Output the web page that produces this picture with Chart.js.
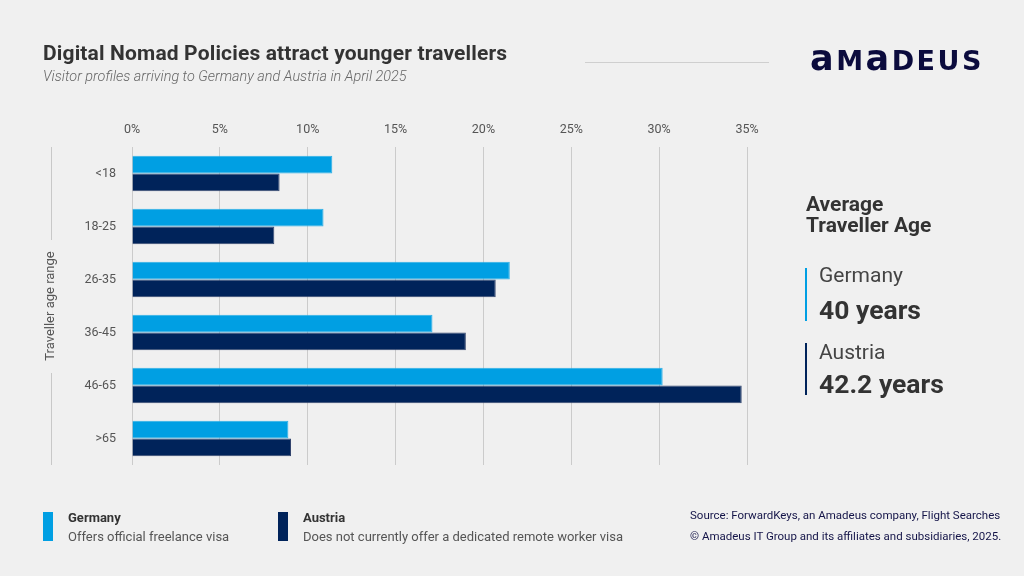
<!DOCTYPE html>
<html>
<head>
<meta charset="utf-8">
<script src="https://cdn.jsdelivr.net/npm/chart.js@4/dist/chart.umd.min.js"></script>
<style>
  html, body { margin: 0; padding: 0; }
  body { width: 1024px; height: 576px; background: #f0f0f0; font-family: Roboto, "Noto Sans", sans-serif; position: relative; overflow: hidden; }
  #wrap { position: absolute; left: 0; top: 0; width: 1024px; height: 576px; }
  .abs { position: absolute; white-space: nowrap; }
  #title { left: 43px; top: 43px; font-size: 21px; line-height: 21px; letter-spacing: 0.15px; font-weight: 700; color: #333; }
  #subtitle { left: 43px; top: 70px; font-size: 14.4px; line-height: 14.4px; font-style: italic; font-weight: 300; color: #666; }
  #rule { left: 585px; top: 62px; width: 184px; height: 1px; background: #cfcfcf; }
  #logo { left: 810px; top: 40px; line-height: 36px; font-weight: 700; color: #0b0b3d; letter-spacing: 2.5px; font-family: "DejaVu Sans", Roboto, sans-serif; }
  #logo .lc { font-size: 35px; }
  #logo .uc { font-size: 27px; }
  .swatch { width: 10px; height: 29px; top: 512px; }
  .lname { font-size: 13px; line-height: 15px; font-weight: 700; color: #333; top: 510px; }
  .ldesc { font-size: 13px; line-height: 15px; color: #555; top: 529px; }
  .src { left: 690px; font-size: 11.5px; color: #141448; font-family: "Liberation Sans Narrow", "Roboto", sans-serif; }
  #avg { left: 806px; top: 194px; font-size: 21px; font-weight: 700; color: #333; line-height: 21px; }
  .bar { left: 805px; width: 2px; }
  .cname { left: 819px; font-size: 21px; line-height: 21px; color: #444; }
  .cval { left: 819px; font-size: 26.5px; line-height: 26.5px; font-weight: 700; color: #333; }
</style>
</head>
<body>
<div id="wrap"><canvas id="chart" width="1024" height="576"></canvas></div>

<div class="abs" id="title">Digital Nomad Policies attract younger travellers</div>
<div class="abs" id="subtitle">Visitor profiles arriving to Germany and Austria in April 2025</div>
<div class="abs" id="rule"></div>
<div class="abs" id="logo"><span class="lc">a</span><span class="uc">M</span><span class="lc">a</span><span class="uc">DEUS</span></div>

<div class="abs" id="avg">Average<br>Traveller Age</div>
<div class="abs bar" style="top:268px;height:53px;background:#009fe3"></div>
<div class="abs cname" style="top:265px">Germany</div>
<div class="abs cval" style="top:296.5px">40 years</div>
<div class="abs bar" style="top:343px;height:52px;background:#00235a"></div>
<div class="abs cname" style="top:342px">Austria</div>
<div class="abs cval" style="top:370.5px">42.2 years</div>

<div class="abs swatch" style="left:43px;background:#009fe3"></div>
<div class="abs lname" style="left:68px">Germany</div>
<div class="abs ldesc" style="left:68px">Offers official freelance visa</div>
<div class="abs swatch" style="left:278px;background:#00235a"></div>
<div class="abs lname" style="left:303px">Austria</div>
<div class="abs ldesc" style="left:303px">Does not currently offer a dedicated remote worker visa</div>

<div class="abs src" style="top:508px">Source: ForwardKeys, an Amadeus company, Flight Searches</div>
<div class="abs src" style="top:529px">© Amadeus IT Group and its affiliates and subsidiaries, 2025.</div>

<script>
const ageRanges = ['<18', '18-25', '26-35', '36-45', '46-65', '>65'];
const germany = [11.4, 10.9, 21.5, 17.1, 30.2, 8.9];
const austria = [8.4, 8.1, 20.7, 19.0, 34.7, 9.05];
const xTicks = [0, 5, 10, 15, 20, 25, 30, 35];

// vertical line beside the y axis title, broken where the title sits
const axisLine = {
  id: 'axisLine',
  beforeDraw(chart) {
    const ctx = chart.ctx, a = chart.chartArea;
    const mid = (a.top + a.bottom) / 2;
    ctx.save();
    ctx.strokeStyle = '#c8c8c8';
    ctx.lineWidth = 1;
    ctx.beginPath();
    ctx.moveTo(51.5, a.top);
    ctx.lineTo(51.5, mid - 66);
    ctx.moveTo(51.5, mid + 67);
    ctx.lineTo(51.5, a.bottom);
    ctx.stroke();
    ctx.restore();
  }
};

new Chart(document.getElementById('chart'), {
  type: 'bar',
  data: {
    labels: ageRanges,
    datasets: [
      { label: 'Germany', data: germany, backgroundColor: '#009fe3', borderColor: '#2aaee6', borderWidth: 1 },
      { label: 'Austria', data: austria, backgroundColor: '#00235a', borderColor: '#33466e', borderWidth: 1 }
    ]
  },
  options: {
    indexAxis: 'y',
    responsive: false,
    animation: false,
    layout: { padding: { left: 43, right: 277, top: 118, bottom: 111 } },
    datasets: { bar: { categoryPercentage: 0.67, barPercentage: 1 } },
    plugins: { legend: { display: false }, tooltip: { enabled: false } },
    scales: {
      x: {
        position: 'top',
        min: 0, max: 35,
        afterBuildTicks: s => { s.ticks = xTicks.map(v => ({ value: v })); },
        afterFit: s => { s.height = 29; },
        border: { display: false },
        grid: { color: '#cbcbcb', drawTicks: false },
        ticks: { padding: 10, color: '#555', font: { family: 'Roboto', size: 12.5 }, callback: v => v + '%' }
      },
      y: {
        afterFit: s => { s.width = 89; },
        border: { display: false },
        grid: { display: false, drawTicks: false },
        ticks: { padding: 16, color: '#555', font: { family: 'Roboto', size: 12.5 } },
        title: { display: true, text: 'Traveller age range', color: '#555', padding: 0, font: { family: 'Roboto', size: 13 } }
      }
    }
  },
  plugins: [axisLine]
});
</script>
</body>
</html>
